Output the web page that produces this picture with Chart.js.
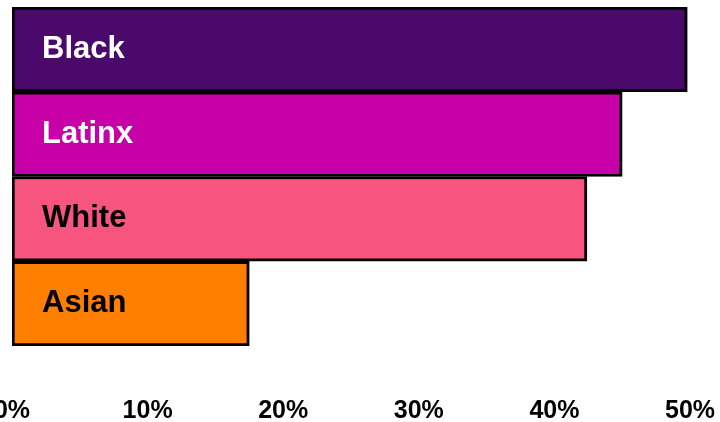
<!DOCTYPE html>
<html>
<head>
<meta charset="utf-8">
<script src="https://cdn.jsdelivr.net/npm/chart.js@4/dist/chart.umd.min.js"></script>
<style>
html,body{margin:0;padding:0;background:#fff;}
#wrap{width:720px;height:422px;position:relative;}
</style>
</head>
<body>
<div id="wrap"><canvas id="c" width="720" height="422"></canvas></div>
<script>
const categories = ['Black', 'Latinx', 'White', 'Asian'];
const values = [49.8, 45.0, 42.4, 17.5];
const barColors = ['#4B0A6B', '#C800A8', '#F75480', '#FF8000'];
const labelColors = ['#FFFFFF', '#FFFFFF', '#000000', '#000000'];
const tickValues = [0, 10, 20, 30, 40, 50];

const FONT = '"Liberation Sans", Arial, Helvetica, sans-serif';

const inBarLabels = {
  id: 'inBarLabels',
  afterDatasetsDraw(chart) {
    const ctx = chart.ctx;
    const meta = chart.getDatasetMeta(0);
    ctx.save();
    ctx.font = 'bold 31px ' + FONT;
    ctx.textAlign = 'left';
    ctx.textBaseline = 'middle';
    meta.data.forEach((bar, i) => {
      ctx.fillStyle = labelColors[i];
      ctx.fillText(categories[i], bar.base + 30, bar.y);
    });
    ctx.restore();
  }
};

new Chart(document.getElementById('c'), {
  type: 'bar',
  data: {
    labels: categories,
    datasets: [{
      data: values,
      backgroundColor: barColors,
      borderColor: '#000000',
      borderWidth: 3,
      borderSkipped: false,
      barPercentage: 1,
      categoryPercentage: 1
    }]
  },
  options: {
    indexAxis: 'y',
    responsive: false,
    animation: false,
    events: [],
    layout: { padding: { left: 12, right: 30, top: 7, bottom: 0 } },
    plugins: { legend: { display: false }, tooltip: { enabled: false } },
    scales: {
      x: {
        min: 0,
        max: 50,
        grid: { display: false },
        border: { display: false },
        afterBuildTicks(scale) {
          scale.ticks = tickValues.map(v => ({ value: v }));
        },
        afterFit(scale) {
          scale.paddingLeft = 0;
          scale.paddingRight = 0;
          scale.height = 76;
        },
        ticks: {
          padding: 42,
          color: '#000000',
          maxRotation: 0,
          font: { family: FONT, size: 25, weight: 'bold' },
          callback: (v) => v + '%'
        }
      },
      y: {
        display: false
      }
    }
  },
  plugins: [inBarLabels]
});
</script>
</body>
</html>
